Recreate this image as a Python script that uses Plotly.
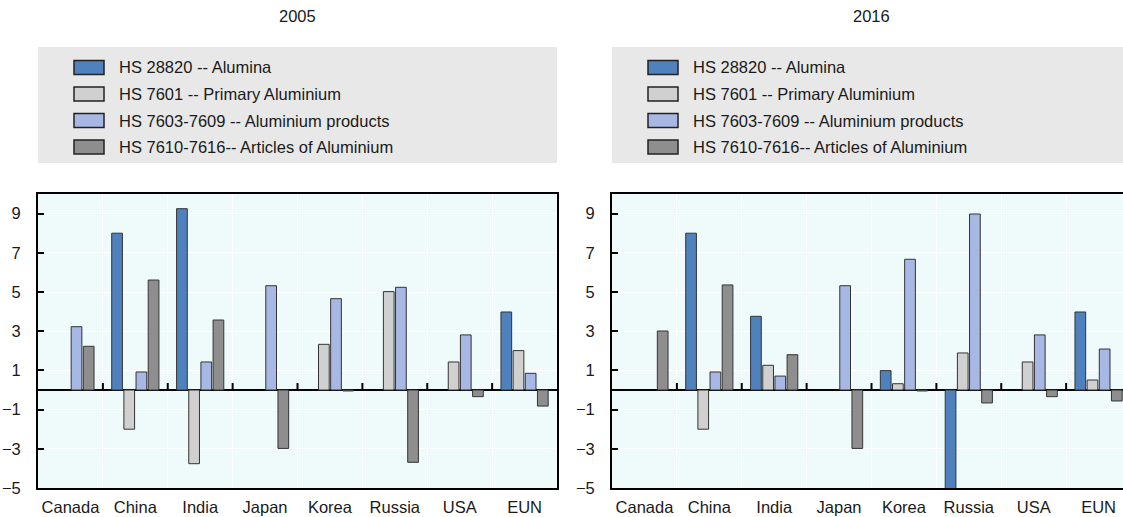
import plotly.graph_objects as go

# ---------------- data ----------------
categories = ["Canada", "China", "India", "Japan", "Korea", "Russia", "USA", "EUN"]
series_names = [
    "HS 28820 -- Alumina",
    "HS 7601 -- Primary Aluminium",
    "HS 7603-7609 -- Aluminium products",
    "HS 7610-7616-- Articles of Aluminium",
]
panel_titles = ["2005", "2016"]

alumina_2005 = [None, 8.0, 9.25, None, None, None, None, 3.98]
primary_2005 = [None, -2.0, -3.76, None, 2.33, 5.02, 1.43, 2.01]
products_2005 = [3.23, 0.92, 1.43, 5.32, 4.66, 5.24, 2.81, 0.85]
articles_2005 = [2.23, 5.61, 3.57, -2.98, -0.05, -3.69, -0.34, -0.82]

alumina_2016 = [None, 8.0, 3.76, None, 0.99, -6.0, None, 3.98]
primary_2016 = [None, -2.0, 1.26, None, 0.32, 1.89, 1.43, 0.51]
products_2016 = [None, 0.92, 0.71, 5.32, 6.67, 8.98, 2.81, 2.09]
articles_2016 = [3.01, 5.36, 1.80, -2.98, -0.05, -0.66, -0.34, -0.56]

y_ticks = [-5, -3, -1, 1, 3, 5, 7, 9]

# ---------------- style ----------------
colors = ["#4F81BD", "#D0D0D0", "#A7B8E4", "#8E8E8E"]
FONT = "Liberation Sans, Arial, sans-serif"
FS = 16.5
W, H = 1123, 517
PLOT_BG = "#EFFBFB"


def px(x):
    return x / W


def py(y):
    return 1 - y / H


panels = [
    dict(data=[alumina_2005, primary_2005, products_2005, articles_2005],
         xa="x", ya="y", dom=[px(38), px(557)], xr=[-0.5, 7.5]),
    dict(data=[alumina_2016, primary_2016, products_2016, articles_2016],
         xa="x2", ya="y2", dom=[px(612), 1.0], xr=[-0.5, -0.5 + 511 / (519 / 8)]),
]
ydom = [py(488), py(194)]

fig = go.Figure()
for p in panels:
    for name, vals, col in zip(series_names, p["data"], colors):
        fig.add_trace(go.Bar(
            x=categories, y=vals, name=name, xaxis=p["xa"], yaxis=p["ya"],
            marker=dict(color=col, line=dict(color="#333333", width=1)),
            showlegend=False,
        ))

layout = dict(
    width=W, height=H,
    margin=dict(l=0, r=0, t=0, b=0, autoexpand=False),
    paper_bgcolor="white",
    plot_bgcolor=PLOT_BG,
    font=dict(family=FONT, size=FS, color="#1a1a1a"),
    barmode="group", bargap=0.25, bargroupgap=0.12,
    showlegend=False,
)

shapes = []
annotations = []
for i, p in enumerate(panels):
    sfx = "" if i == 0 else "2"
    layout["xaxis" + sfx] = dict(
        domain=p["dom"], anchor="y" + sfx, range=p["xr"],
        type="category", tickson="boundaries",
        showgrid=True, gridcolor="white", gridwidth=1,
        showline=True, mirror=True, linecolor="black", linewidth=2,
        ticks="", ticklabelstandoff=3, tickangle=0, automargin=False,
        tickfont=dict(family=FONT, size=FS),
        fixedrange=True,
    )
    layout["yaxis" + sfx] = dict(
        domain=ydom, anchor="x" + sfx, range=[-5, 10],
        tickvals=y_ticks, automargin=False,
        showgrid=True, gridcolor="white", gridwidth=1,
        showline=True, mirror=True, linecolor="black", linewidth=2,
        zeroline=True, zerolinecolor="black", zerolinewidth=2,
        ticks="inside", ticklen=6, tickwidth=2, tickcolor="black",
        ticklabelstandoff=12,
        tickfont=dict(family=FONT, size=FS),
        fixedrange=True,
    )
    # small category-boundary ticks on the zero line
    for k in range(len(categories) - 1):
        shapes.append(dict(
            type="line", xref=p["xa"], yref=p["ya"],
            x0=k + 0.5, x1=k + 0.5, y0=0, y1=7,
            ysizemode="pixel", yanchor=0,
            line=dict(color="black", width=2),
        ))
    # legend box
    x_left = p["dom"][0]
    x_right = p["dom"][1]
    shapes.append(dict(
        type="rect", xref="paper", yref="paper",
        x0=x_left, x1=x_right, y0=py(163), y1=py(47),
        fillcolor="#E8E8E8", line=dict(width=0), layer="below",
    ))
    left_px = x_left * W
    for j, (name, col) in enumerate(zip(series_names, colors)):
        yc = 67.5 + j * 26.5
        shapes.append(dict(
            type="rect", xref="paper", yref="paper",
            x0=px(left_px + 36), x1=px(left_px + 66),
            y0=py(yc + 7), y1=py(yc - 7),
            fillcolor=col, line=dict(color="#222222", width=1.5),
        ))
        annotations.append(dict(
            text=name, xref="paper", yref="paper",
            x=px(left_px + 79), y=py(yc), xanchor="left", yanchor="middle",
            showarrow=False, font=dict(family=FONT, size=FS, color="#1a1a1a"),
        ))
    # panel title
    annotations.append(dict(
        text=panel_titles[i], xref="paper", yref="paper",
        x=(p["dom"][0] + (p["dom"][0] + 519 / W)) / 2, y=py(16),
        xanchor="center", yanchor="middle", showarrow=False,
        font=dict(family=FONT, size=FS, color="#1a1a1a"),
    ))

layout["shapes"] = shapes
layout["annotations"] = annotations
fig.update_layout(**layout)

fig.write_html(
    "out.html",
    config={"displayModeBar": False},
    post_script="document.body.style.margin='0';document.body.style.overflow='hidden';",
)
